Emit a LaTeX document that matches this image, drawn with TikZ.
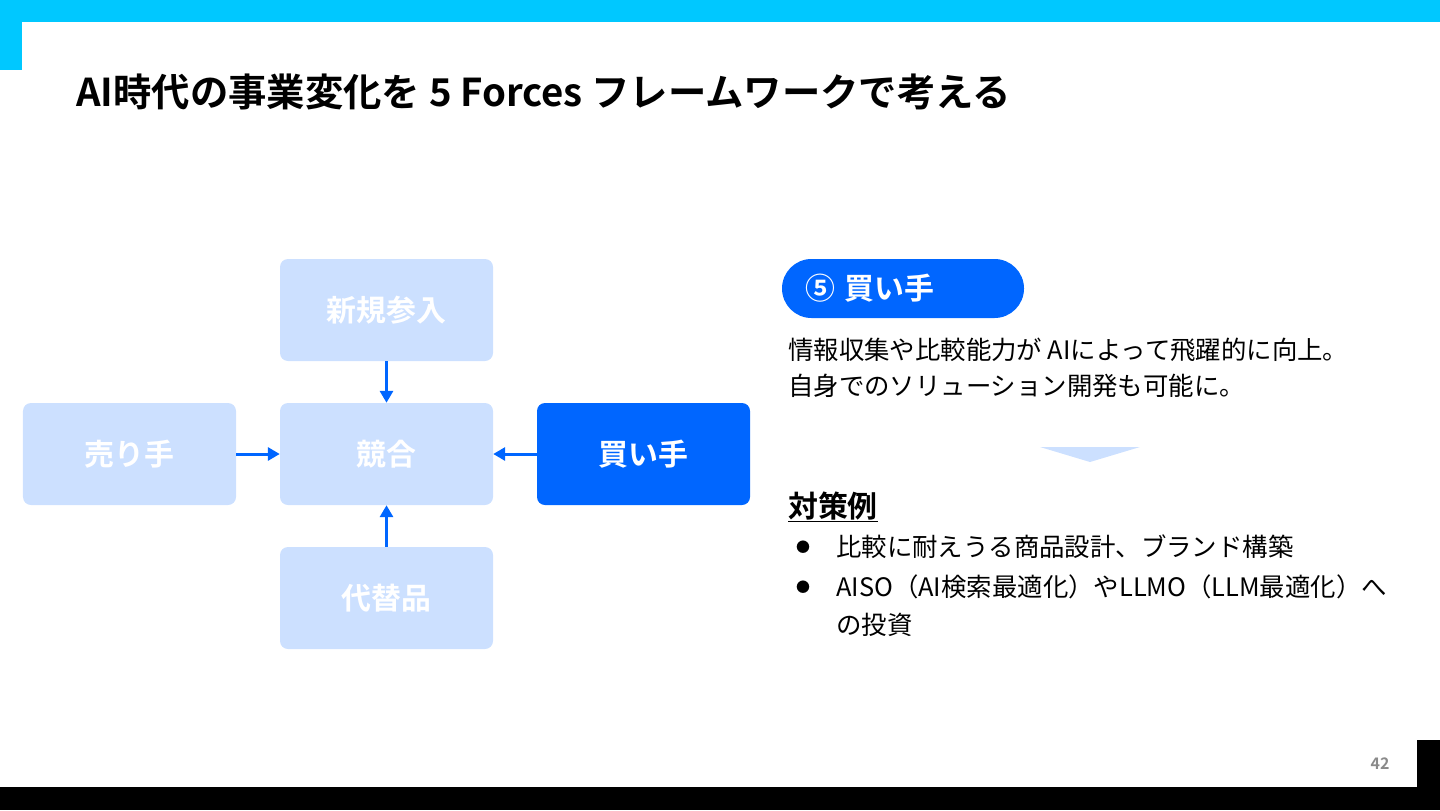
\documentclass[tikz,border=0pt]{standalone}
\usepackage{fontspec}
\setmainfont{Noto Sans CJK JP}[BoldFont={* Bold}]
\usetikzlibrary{arrows.meta}
\definecolor{cyanbar}{HTML}{00C8FF}
\definecolor{mainblue}{HTML}{0066FF}
\definecolor{paleblue}{HTML}{CCE0FF}
\definecolor{pagegray}{HTML}{8A8A8A}
\tikzset{
  forcebox/.style={rounded corners=8bp, minimum width=213bp, minimum height=102bp, inner sep=0pt,
    fill=paleblue, text=white, font=\fontsize{30}{36}\selectfont\bfseries},
  activebox/.style={forcebox, fill=mainblue},
  forcearrow/.style={draw=mainblue, line width=3bp, -{Triangle[length=12bp,width=13bp]}},
  bodytext/.style={anchor=west, inner sep=0pt, font=\fontsize{25.5}{30}\selectfont, text=black},
}
\begin{document}
\begin{tikzpicture}[x=1bp,y=-1bp]
\useasboundingbox (0,0) rectangle (1440,810);
% frame bars
\fill[cyanbar] (0,0) rectangle (1440,22);
\fill[cyanbar] (0,0) rectangle (22,70);
\fill[black] (0,787) rectangle (1440,810);
\fill[black] (1417,740) rectangle (1440,810);
\node[font=\fontsize{16}{18}\selectfont\bfseries, text=pagegray, inner sep=0pt] (pagenum) at (1380,764) {42};
% title
\node[anchor=west, inner sep=0pt, font=\fontsize{38.5}{44}\selectfont\bfseries] (title) at (76,92) {AI時代の事業変化を 5 Forces フレームワークで考える};
% five forces
\node[forcebox] (entry) at (386.5,310) {新規参入};
\node[forcebox] (comp) at (386.5,454) {競合};
\node[forcebox] (seller) at (129.5,454) {売り手};
\node[activebox] (buyer) at (643.5,454) {買い手};
\node[forcebox] (subst) at (386.5,598) {代替品};
\draw[forcearrow] (entry.south) -- (comp.north);
\draw[forcearrow] (seller.east) -- (comp.west);
\draw[forcearrow] (buyer.west) -- (comp.east);
\draw[forcearrow] (subst.north) -- (comp.south);
% right panel
\node[rounded corners=29.5bp, fill=mainblue, text=white, minimum height=59bp, text width=196bp,
  inner xsep=23bp, inner ysep=0pt, align=left, font=\fontsize{30}{36}\selectfont\bfseries] (pill) at (903,288.5) {⑤ 買い手};
\node[bodytext] (desc1) at (788,350) {情報収集や比較能力が AIによって飛躍的に向上。};
\node[bodytext] (desc2) at (788,386) {自身でのソリューション開発も可能に。};
\fill[paleblue] (1040,447) -- (1140,447) -- (1090,462) -- cycle;
\node[bodytext, font=\fontsize{30}{34}\selectfont\bfseries] (measures) at (788,507) {\underline{対策例}};
\node[bodytext, font=\fontsize{14}{16}\selectfont] (b1) at (796,547) {●};
\node[bodytext] (item1) at (836,547) {比較に耐えうる商品設計、ブランド構築};
\node[bodytext, font=\fontsize{14}{16}\selectfont] (b2) at (796,587) {●};
\node[bodytext] (item2) at (836,587) {AISO（AI検索最適化）やLLMO（LLM最適化）へ};
\node[bodytext] (item2b) at (836,625) {の投資};
\end{tikzpicture}
\end{document}
